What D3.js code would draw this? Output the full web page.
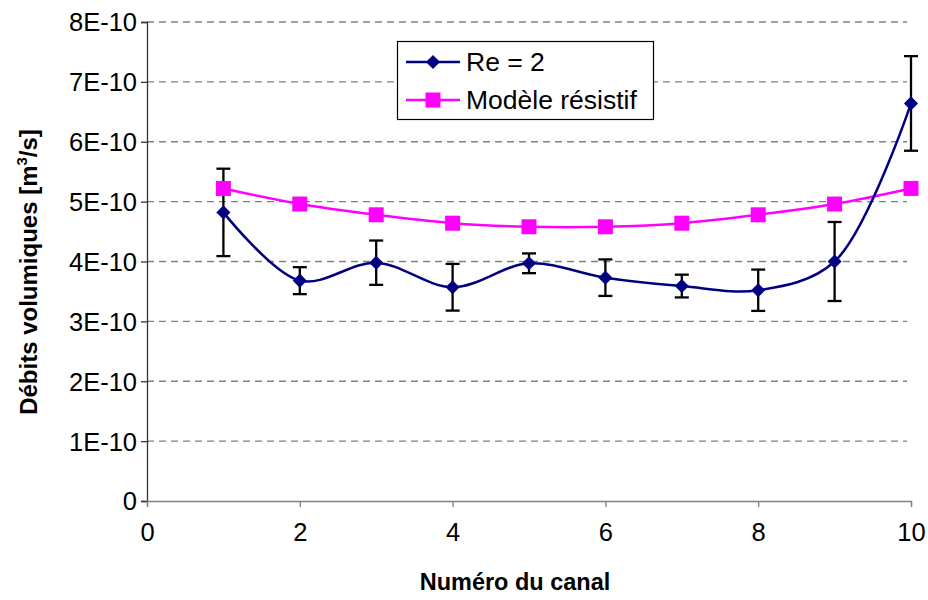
<!DOCTYPE html>
<html>
<head>
<meta charset="utf-8">
<script src="https://cdn.jsdelivr.net/npm/d3@7"></script>
<style>
  body { margin: 0; background: #fff; }
  svg { display: block; font-family: "Liberation Sans", Arial, sans-serif; }
</style>
</head>
<body>
<svg id="chart" width="928" height="600"></svg>
<script>
// ---- Data ----
const canals = [1, 2, 3, 4, 5, 6, 7, 8, 9, 10];
const re2Values = [4.82e-10, 3.68e-10, 3.98e-10, 3.57e-10, 3.97e-10, 3.73e-10, 3.59e-10, 3.52e-10, 4.00e-10, 6.64e-10];
const re2Errors = [0.73e-10, 0.225e-10, 0.37e-10, 0.39e-10, 0.165e-10, 0.305e-10, 0.19e-10, 0.345e-10, 0.66e-10, 0.79e-10];
const modelValues = [5.22e-10, 4.96e-10, 4.78e-10, 4.64e-10, 4.58e-10, 4.58e-10, 4.64e-10, 4.78e-10, 4.96e-10, 5.22e-10];
const xTicks = [0, 2, 4, 6, 8, 10];
const yTicks = [0, 1e-10, 2e-10, 3e-10, 4e-10, 5e-10, 6e-10, 7e-10, 8e-10];
const yTickLabels = ["0", "1E-10", "2E-10", "3E-10", "4E-10", "5E-10", "6E-10", "7E-10", "8E-10"];
const seriesNames = ["Re = 2", "Modèle résistif"];

(function () {
// ---- Layout ----
const svg = d3.select("#chart");
const mLeft = 147, mRight = 911, mTop = 22, mBottom = 501;
const x = d3.scaleLinear().domain([0, 10]).range([mLeft, mRight]);
const y = d3.scaleLinear().domain([0, 8e-10]).range([mBottom, mTop]);

// gridlines
svg.append("g").selectAll("line").data(yTicks.slice(1)).join("line")
  .attr("x1", mLeft).attr("x2", mRight - 4)
  .attr("y1", d => y(d)).attr("y2", d => y(d))
  .attr("stroke", "#808080").attr("stroke-width", 1.3)
  .attr("stroke-dasharray", "7,5");

// y axis
const yAxis = d3.axisLeft(y).tickValues(yTicks).tickSize(6).tickPadding(4)
  .tickFormat((d, i) => yTickLabels[i]);
const gy = svg.append("g").attr("transform", `translate(${mLeft},0)`).call(yAxis);
gy.select(".domain").attr("stroke", "#333").attr("stroke-width", 1.3);
gy.selectAll(".tick line").attr("stroke", "#333").attr("stroke-width", 1.3);
gy.selectAll(".tick text").attr("font-size", 25.5).attr("fill", "#000")
  .attr("font-family", "Liberation Sans, Arial, sans-serif").attr("dy", "0.35em");

// x axis
const xAxis = d3.axisBottom(x).tickValues(xTicks).tickSize(6).tickPadding(16);
const gx = svg.append("g").attr("transform", `translate(0,${mBottom})`).call(xAxis);
gx.select(".domain").attr("stroke", "#808080").attr("stroke-width", 1.3);
gx.selectAll(".tick line").attr("stroke", "#808080").attr("stroke-width", 1.3);
gx.selectAll(".tick text").attr("font-size", 25.5).attr("fill", "#000")
  .attr("font-family", "Liberation Sans, Arial, sans-serif");

// axis titles
svg.append("text").attr("x", 515).attr("y", 590)
  .attr("text-anchor", "middle").attr("font-size", 23.5).attr("font-weight", "bold")
  .text("Numéro du canal");
const yt = svg.append("text")
  .attr("transform", `translate(37,272) rotate(-90)`)
  .attr("text-anchor", "middle").attr("font-size", 24).attr("font-weight", "bold");
yt.append("tspan").text("Débits volumiques [m");
yt.append("tspan").attr("font-size", 15).attr("dy", -10).text("3");
yt.append("tspan").attr("dy", 10).text("/s]");

// error bars
const eb = svg.append("g");
canals.forEach((c, i) => {
  const hi = y(re2Values[i] + re2Errors[i]), lo = y(re2Values[i] - re2Errors[i]);
  eb.append("line").attr("x1", x(c)).attr("x2", x(c)).attr("y1", hi).attr("y2", lo)
    .attr("stroke", "#000").attr("stroke-width", 2.3);
  [hi, lo].forEach(v => eb.append("line").attr("x1", x(c) - 7).attr("x2", x(c) + 7)
    .attr("y1", v).attr("y2", v).attr("stroke", "#000").attr("stroke-width", 2.3));
});

const line = d3.line().curve(d3.curveCatmullRom.alpha(0.5));

// model series
svg.append("path").datum(canals.map((c, i) => [x(c), y(modelValues[i])]))
  .attr("d", line).attr("fill", "none").attr("stroke", "#FF00FF").attr("stroke-width", 2.5);
svg.append("g").selectAll("rect").data(canals).join("rect")
  .attr("x", (c) => x(c) - 7.5).attr("y", (c, i) => y(modelValues[i]) - 7.5)
  .attr("width", 15).attr("height", 15).attr("fill", "#FF00FF");

// Re = 2 series
svg.append("path").datum(canals.map((c, i) => [x(c), y(re2Values[i])]))
  .attr("d", line).attr("fill", "none").attr("stroke", "#000080").attr("stroke-width", 2.5);
const diamond = d3.symbol().type(d3.symbolSquare).size(100);
svg.append("g").selectAll("path").data(canals).join("path")
  .attr("transform", (c, i) => `translate(${x(c)},${y(re2Values[i])}) rotate(45)`)
  .attr("d", diamond).attr("fill", "#000080");

// legend
const lg = svg.append("g");
lg.append("rect").attr("x", 397.5).attr("y", 41.5).attr("width", 256).attr("height", 78)
  .attr("fill", "#fff").attr("stroke", "#000").attr("stroke-width", 1.2);
const rows = [62, 100];
lg.append("line").attr("x1", 406).attr("x2", 460).attr("y1", rows[0]).attr("y2", rows[0])
  .attr("stroke", "#000080").attr("stroke-width", 2.5);
lg.append("path").attr("transform", `translate(433,${rows[0]}) rotate(45)`)
  .attr("d", diamond).attr("fill", "#000080");
lg.append("line").attr("x1", 406).attr("x2", 460).attr("y1", rows[1]).attr("y2", rows[1])
  .attr("stroke", "#FF00FF").attr("stroke-width", 2.5);
lg.append("rect").attr("x", 433 - 7.5).attr("y", rows[1] - 7.5).attr("width", 15).attr("height", 15)
  .attr("fill", "#FF00FF");
seriesNames.forEach((n, i) => lg.append("text").attr("x", 466).attr("y", rows[i])
  .attr("dy", "0.35em").attr("font-size", 26.5).text(n));
})();
</script>
</body>
</html>
